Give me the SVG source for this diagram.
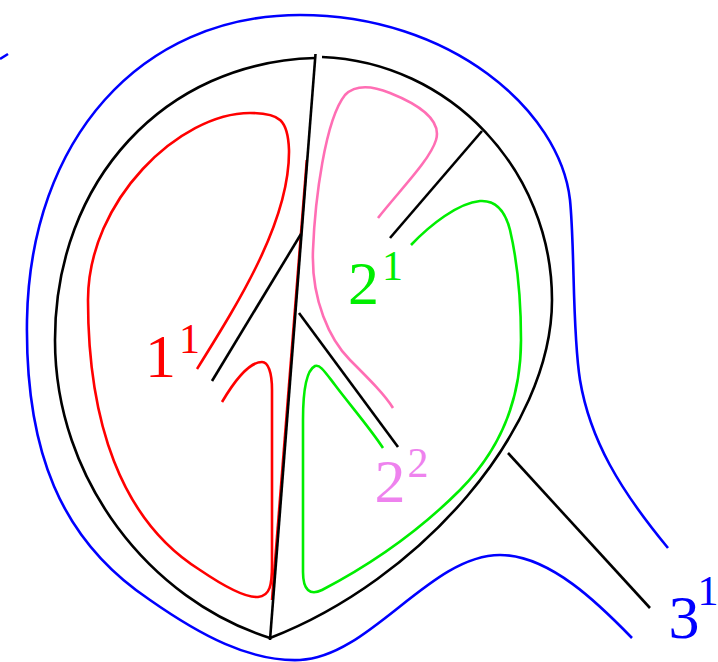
<svg xmlns="http://www.w3.org/2000/svg" width="718" height="662" viewBox="0 0 718 662">
<style>
path,line{fill:none;stroke-width:2.6;stroke-linecap:butt;stroke-linejoin:round}
.k{stroke:#000}
.r{stroke:#ff0000}
.p{stroke:#ff6eb4}
.g{stroke:#00ee00}
.b{stroke:#0000ff}
text{font-family:"Liberation Serif","DejaVu Serif",serif;text-anchor:middle}
.big{font-size:62px}
.sup{font-size:42px}
</style>
<rect width="718" height="662" fill="#fff"/>
<g id="blue">
<path class="b" d="M0,59 L8,54" stroke-width="3.5"/>
<path class="b" d="M668,548 C 620,490 590,440 580,380 C 572,330 575,250 570,200 C 560,110 450,15 300,15 C 140,15 30,140 27,320 C 25,450 60,540 150,600 C 200,635 250,662 300,660 C 370,657 430,555 500,555 C 550,555 600,605 632,638"/>
</g>
<g id="red">
<line class="r" x1="306.8" y1="160" x2="272" y2="600" stroke-width="2.4"/>
<path class="r" d="M197,369 C 240,300 290,220 289,150 C 288,120 280,113 250,113 C 180,113 88,200 88,300 C 88,420 120,520 200,570 C 225,587 245,598 258,597 C 270,596 272,585 272,565 L 272,390 C 272,372 268,362 262,362 C 250,362 235,380 222,402"/>
</g>
<g id="pink">
<path class="p" d="M378,218 C 400,190 430,160 436,140 C 442,120 420,105 390,93 C 370,85 355,85 345,95 C 325,120 315,200 313,250 C 311,300 330,340 350,360 C 370,380 385,395 393,408"/>
</g>
<g id="green">
<path class="g" d="M383,448 C 370,428 350,405 335,385 C 325,372 320,364 315,366 C 307,370 303,390 303,420 L 303,572 C 303,590 310,596 322,590 C 370,565 420,530 460,490 C 500,450 521,400 521,340 C 521,300 517,260 510,230 C 505,210 495,200 480,201 C 458,203 430,225 411,245"/>
</g>
<g id="black">
<path class="k" d="M315,58 C 165,62 55,180 55,340 C 55,480 150,600 270,638"/>
<path class="k" d="M322,57 C 450,62 552,170 552,300 C 552,430 420,580 270,638"/>
</g>
<g id="connectors">
<line class="k" x1="315.5" y1="54" x2="270" y2="640"/>
<line class="k" x1="212" y1="381" x2="301" y2="234"/>
<line class="k" x1="299" y1="313" x2="398" y2="447"/>
<line class="k" x1="390" y1="238" x2="482" y2="131"/>
<line class="k" x1="508" y1="453" x2="650" y2="608"/>
</g>
<g id="label-1-1" fill="#ff0000">
<text class="big" x="160.5" y="377">1</text>
<text class="sup" x="189.5" y="353">1</text>
</g>
<g id="label-2-1" fill="#00ee00">
<text class="big" x="363.5" y="304">2</text>
<text class="sup" x="392.5" y="280">1</text>
</g>
<g id="label-2-2" fill="#ee82ee">
<text class="big" x="390" y="502">2</text>
<text class="sup" x="418" y="477">2</text>
</g>
<g id="label-3-1" fill="#0000ff">
<text class="big" x="684" y="638">3</text>
<text class="sup" x="708" y="605">1</text>
</g>
</svg>
